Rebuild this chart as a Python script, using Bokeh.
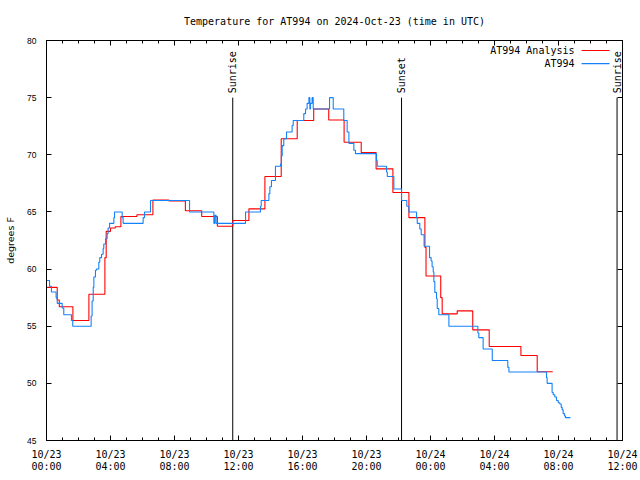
import math
from bokeh.plotting import figure
from bokeh.models import FixedTicker, LinearAxis, Label, Range1d
from bokeh.embed import file_html
from bokeh.resources import INLINE
from bokeh.core.properties import value

# ---------------- data ----------------
title_text = "Temperature for AT994 on 2024-Oct-23 (time in UTC)"
y_axis_title = "degrees F"

# x values are hours since 2024-10-23 00:00 UTC
x_tick_hours = [0, 4, 8, 12, 16, 20, 24, 28, 32, 36]
x_tick_labels = ["10/23\n00:00", "10/23\n04:00", "10/23\n08:00", "10/23\n12:00",
                 "10/23\n16:00", "10/23\n20:00", "10/24\n00:00", "10/24\n04:00",
                 "10/24\n08:00", "10/24\n12:00"]
x_minor_hours = list(range(0, 37))
y_ticks = [45, 50, 55, 60, 65, 70, 75, 80]

analysis_name = "AT994 Analysis"
analysis_hours = [0.0, 0.67, 0.8, 1.65, 2.65, 3.65, 3.73, 4.0, 4.3, 4.65, 5.65,
                  6.65, 7.65, 8.68, 9.7, 10.68, 11.64, 12.65, 13.65, 14.67, 15.67,
                  16.7, 17.64, 18.6, 19.67, 20.6, 21.65, 22.65, 23.65, 23.72, 24.64,
                  24.73, 25.67, 26.64, 27.67, 29.65, 30.67, 31.64]
analysis_temps = [58.4, 57.3, 56.7, 55.5, 57.8, 61.0, 63.3, 63.6, 63.7, 64.6, 64.75,
                  66.05, 65.95, 65.1, 64.6, 63.75, 64.25, 65.27, 68.1, 71.4, 73.0,
                  74.0, 73.05, 71.1, 70.2, 68.77, 66.7, 64.5, 61.9, 59.4, 57.5,
                  56.08, 56.34, 54.68, 53.22, 52.44, 51.01, 51.01]

obs_name = "AT994"
obs_hours = [0.0, 0.19, 0.31, 0.6, 0.67, 0.98, 1.08, 1.56, 1.64, 2.79, 2.85, 2.92,
             2.96, 3.06, 3.125, 3.27, 3.33, 3.44, 3.54, 3.58, 3.69, 3.79, 3.85, 3.94,
             4.21, 4.25, 4.73, 4.79, 6.04, 6.125, 6.5, 8.94, 10.46, 10.52, 10.6,
             12.44, 13.375, 13.42, 13.9, 13.96, 14.06, 14.31, 14.625, 14.68, 14.73,
             14.83, 15.0, 15.35, 15.42, 16.08, 16.19, 16.29, 16.4, 16.46, 16.5, 16.6,
             16.67, 16.75, 17.69, 17.92, 18.58, 18.79, 18.9, 19.21, 19.31, 20.625,
             20.67, 21.25, 21.3, 21.71, 22.19, 22.52, 22.65, 23.125, 23.17, 23.33,
             23.42, 23.48, 23.6, 23.94, 24.04, 24.1, 24.17, 24.21, 24.27, 24.375,
             24.42, 24.52, 25.15, 26.96, 27.02, 27.29, 27.86, 28.83, 28.9, 31.25,
             31.29, 31.6, 31.67, 31.77, 31.875, 31.98, 32.08, 32.17, 32.23, 32.29,
             32.375, 32.44, 32.75]
obs_temps = [59.0, 58.5, 58.0, 57.5, 57.0, 56.6, 56.0, 55.5, 55.0, 55.9, 57.2, 58.4,
             59.3, 59.9, 60.0, 60.6, 61.0, 61.3, 61.8, 62.2, 62.65, 63.1, 63.6, 64.0,
             64.5, 65.0, 64.5, 64.0, 64.5, 65.0, 66.0, 65.0, 64.0, 64.7, 64.0,
             65.0, 65.5, 66.0, 66.6, 67.2, 67.75, 69.0, 69.2, 69.9, 70.8,
             71.4, 72.0, 72.56, 73.0, 73.6, 74.0, 74.5, 75.0, 74.0, 74.5, 75.0,
             74.0, 74.0, 75.0, 74.0, 73.0, 72.0, 71.0, 70.4, 70.1, 69.5,
             69.0, 68.5, 68.1, 67.0, 66.0, 65.5, 65.0, 64.5, 64.0, 63.5,
             63.0, 63.0, 62.0, 61.0, 60.7, 60.2, 59.75, 58.9, 57.96, 57.43,
             56.55, 56.0, 55.0, 54.4, 54.0, 53.0, 52.0, 51.4, 51.0, 50.5,
             50.0, 49.2, 49.0, 48.8, 48.5, 48.3, 48.2, 47.9, 47.7, 47.35,
             47.15, 47.0, 47.0]

sun_event_names = ["Sunrise", "Sunset", "Sunrise"]
sun_event_hours = [11.64, 22.19, 35.66]
sun_line_top = 75.0

# ---------------- figure ----------------
MONO = "DejaVu Sans Mono"
SANS = "Liberation Sans"
RED = "#ff0000"
BLUE = "#1482fa"

p = figure(frame_width=576, frame_height=400,
           x_range=Range1d(0, 36), y_range=Range1d(45, 80),
           output_backend="svg", toolbar_location=None,
           min_border_left=46, min_border_right=18,
           min_border_top=40, min_border_bottom=40,
           background_fill_color="white", border_fill_color="white",
           title=title_text)
p.outline_line_color = "black"
p.outline_line_width = 1
p.xgrid.visible = False
p.ygrid.visible = False

p.title.text_font = MONO
p.title.text_font_size = "10px"
p.title.text_font_style = "normal"
p.title.text_color = "black"
p.title.align = "center"
p.title.standoff = 27

xt = FixedTicker(ticks=x_tick_hours, minor_ticks=x_minor_hours)
yt = FixedTicker(ticks=y_ticks, minor_ticks=[])

def style_axis(ax):
    ax.axis_line_color = "black"
    ax.major_tick_line_color = "black"
    ax.minor_tick_line_color = "black"
    ax.major_label_text_color = "black"
    ax.major_tick_out = 0
    ax.minor_tick_out = 0

xa = p.xaxis[0]
xa.ticker = xt
xa.major_label_overrides = {float(h): lab for h, lab in zip(x_tick_hours, x_tick_labels)}
xa.major_label_text_font = MONO
xa.major_label_text_font_size = "10px"
xa.major_label_text_line_height = 1.1
xa.major_label_standoff = 8
xa.major_tick_in = 5
xa.minor_tick_in = 3
style_axis(xa)

ya = p.yaxis[0]
ya.ticker = yt
ya.major_label_text_font = SANS
ya.major_label_text_font_size = "8.5px"
ya.major_label_standoff = 10
ya.major_tick_in = 5
ya.minor_tick_in = 0
ya.axis_label = y_axis_title
ya.axis_label_text_font = "DejaVu Sans"
ya.axis_label_text_font_size = "9.5px"
ya.axis_label_text_font_style = "normal"
ya.axis_label_text_color = "black"
ya.axis_label_standoff = 8
style_axis(ya)

top = LinearAxis(ticker=xt)
top.major_label_overrides = {float(h): "" for h in x_tick_hours}
top.major_label_standoff = 0
top.major_tick_in = 5
top.minor_tick_in = 3
style_axis(top)
p.add_layout(top, "above")

right = LinearAxis(ticker=yt)
right.major_label_overrides = {float(v): "" for v in y_ticks}
right.major_label_standoff = 0
right.major_tick_in = 5
right.minor_tick_in = 0
style_axis(right)
p.add_layout(right, "right")

# sunrise / sunset markers
p.segment(x0=sun_event_hours, y0=[45] * len(sun_event_hours),
          x1=sun_event_hours, y1=[sun_line_top] * len(sun_event_hours),
          line_color="black", line_width=1)
p.text(x=sun_event_hours, y=[sun_line_top + 0.38] * len(sun_event_hours),
       text=sun_event_names, angle=math.pi / 2,
       text_align="left", text_baseline="middle",
       text_font=value(MONO), text_font_size="10px", text_color="black")

# series
p.step(analysis_hours, analysis_temps, mode="after", line_color=RED, line_width=1.1)
p.step(obs_hours, obs_temps, mode="after", line_color=BLUE, line_width=1.1)

# legend (gnuplot style: text then sample)
leg_rows = [(analysis_name, RED, 79.12), (obs_name, BLUE, 77.98)]
for name, col, yy in leg_rows:
    p.add_layout(Label(x=33.0, y=yy, text=name, text_align="right",
                       text_baseline="middle", text_font=MONO,
                       text_font_size="10px", text_color="black"))
p.segment(x0=[33.44, 33.44], y0=[79.12, 77.98], x1=[35.19, 35.19], y1=[79.12, 77.98],
          line_color=[RED, BLUE], line_width=1.1)

open("out.html", "w").write(file_html(p, INLINE))
